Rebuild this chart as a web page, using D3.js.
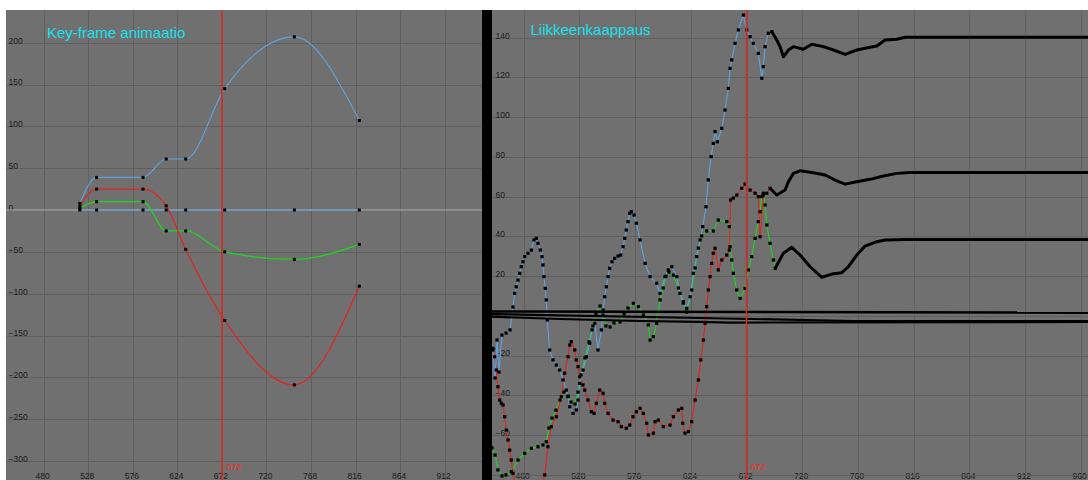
<!DOCTYPE html>
<html><head><meta charset="utf-8">
<script src="https://cdn.jsdelivr.net/npm/d3@7"></script>
<style>
html,body{margin:0;padding:0;background:#fff;}
svg{display:block;}
text{font-family:"Liberation Sans",Arial,sans-serif;}
</style></head><body>
<svg id="c" width="1088" height="480"></svg>
<script>
// ---------- DATA ----------
// Left panel: key-frame animation (frame, value)
const leftKeyFrames = [519, 537, 587, 612, 633, 675, 750, 820];
const leftBlueTop   = [8, 39, 39, 61, 61, 145, 207, 107];
const leftRed       = [5, 25, 25, 5, -47, -132, -209, -91];
const leftGreen     = [2, 10, 10, -25, -25, -50, -59, -41];
const leftBlueZero  = [0, 0, 0, 0, 0, 0, 0, 0];
const leftXTicks = [480, 528, 576, 624, 672, 720, 768, 816, 864, 912];
const leftYTicks = [-300, -250, -200, -150, -100, -50, 0, 50, 100, 150, 200];

// Right panel: motion capture curves [frame, value]
const rightA = [[453.5,-17.2],[455.3,-31.3],[457.0,-12.2],[458.7,-28.3],[461.3,-9.7],[464.8,-8.7],[468.2,-7.1],[470.8,4.4],[472.2,11.3],[473.6,14.6],[475.1,18.0],[476.6,21.4],[477.9,24.7],[479.4,27.2],[480.9,29.8],[483.7,31.5],[486.6,33.1],[488.9,38.2],[490.9,39.0],[492.3,36.5],[494.3,33.1],[495.8,29.8],[496.6,25.6],[497.5,19.7],[498.6,13.8],[499.5,8.0],[500.3,-2.1],[502.4,-17.2],[505.3,-22.2],[508.1,-24.8],[511.0,-27.3],[513.9,-32.3],[516.7,-37.4],[518.2,-40.7],[519.7,-45.8],[522.5,-49.1],[525.3,-47.4],[526.8,-42.4],[528.3,-34.0],[531.1,-27.3],[534.0,-20.6],[536.9,-13.8],[538.9,-7.1],[541.2,-3.8],[544.0,-17.2],[546.9,-7.1],[548.4,2.9],[549.8,9.6],[551.2,14.6],[552.7,19.7],[554.1,23.9],[556.1,27.2],[558.4,28.9],[561.3,30.1],[563.6,30.6],[565.6,34.8],[567.1,39.0],[568.4,43.2],[569.9,47.4],[571.4,51.6],[572.8,52.4],[575.1,50.7],[577.1,46.6],[580.3,38.2],[584.6,26.4],[588.9,19.7],[594.6,16.4],[597.5,11.3],[601.8,19.7],[604.6,23.1],[607.6,24.7],[611.9,19.7],[614.7,11.3],[617.6,7.1],[620.5,3.8],[623.4,9.6],[626.2,21.4],[629.1,29.8],[632.0,38.2],[634.3,44.9],[637.1,54.9],[639.1,68.4],[641.5,80.1],[643.4,86.8],[644.9,92.7],[646.9,87.6],[650.7,94.4],[653.5,103.6],[656.4,114.5],[657.8,124.6],[659.3,128.8],[662.1,137.2],[665.0,143.9],[669.3,151.4],[672.2,143.9],[675.1,140.5],[677.9,137.2],[682.2,132.1],[685.2,119.6],[686.5,125.4],[688.0,135.5],[690.8,142.2],[693.8,143.0],[698.1,138.8],[700.9,135.5],[703.8,130.4],[708.1,133.8],[712.4,135.5],[721.0,134.2],[728.3,136.7],[738.3,135.5],[746.9,133.8],[757.0,131.6],[767.0,133.8],[778.5,135.2],[784.3,135.8],[791.4,138.8],[801.5,139.2],[808.7,140.2],[970,140.2]];
const rightB = [[453.5,-16.4],[455.0,-20.6],[456.4,-27.3],[457.8,-35.7],[459.3,-42.4],[460.7,-44.0],[462.2,-44.9],[463.6,-50.8],[465.0,-57.5],[466.5,-62.5],[467.9,-67.6],[469.3,-72.6],[470.8,-79.3],[476,-95],[486,-100],[494,-90],[498.1,-80.1],[500.9,-65.9],[503.8,-55.8],[508.1,-50.8],[512.4,-40.7],[515.3,-28.9],[518.2,-20.6],[519.7,-14.7],[521.0,-13.0],[524.0,-17.2],[525.3,-22.2],[526.8,-25.6],[528.3,-30.7],[531.1,-34.8],[532.6,-37.4],[535.4,-42.4],[538.3,-48.3],[540.6,-49.1],[542.6,-44.0],[545.5,-37.4],[548.4,-39.0],[549.8,-44.0],[552.7,-49.1],[557.0,-52.5],[561.3,-53.3],[564.1,-55.8],[568.4,-56.6],[571.4,-55.0],[574.2,-50.8],[577.1,-48.3],[580.3,-46.6],[583.1,-49.1],[586.0,-54.1],[587.4,-60.0],[591.7,-59.1],[593.2,-53.3],[596.0,-52.5],[600.3,-55.8],[606.1,-55.0],[609.0,-50.8],[613.3,-47.4],[616.2,-46.6],[617.1,-54.1],[619.0,-59.1],[621.9,-58.3],[624.8,-53.3],[627.7,-42.4],[630.5,-32.3],[632.6,-22.2],[634.8,-12.2],[636.3,-3.8],[637.7,4.6],[639.1,13.0],[640.6,19.7],[642.0,26.4],[643.4,31.5],[644.9,34.0],[647.7,23.1],[650.7,28.1],[655.0,30.6],[657.2,33.1],[658.3,58.3],[660.7,59.3],[663.6,60.8],[667.9,64.2],[670.8,66.3],[675.1,63.3],[679.4,61.7],[682.2,60.0],[683.7,39.8],[686.5,60.8],[689.5,61.7],[692.3,64.2],[698.1,60.8],[705.2,63.3],[708.1,67.5],[712.4,71.7],[718.2,73.0],[729.6,72.0],[739.7,70.9],[749.8,67.9],[757.0,66.3],[767.0,67.5],[778.5,68.7],[790.0,70.4],[801.5,71.7],[813.0,72.2],[970,72.2]];
const rightC = [[452.7,-66.5],[455.3,-70.1],[457.8,-77.6],[461.3,-80.6],[464.7,-80.1],[469.3,-78.5],[475.1,-72.6],[480.9,-69.2],[486.6,-66.7],[492.3,-65.9],[496.6,-65.0],[499.5,-63.4],[501.8,-56.5],[504.4,-51.5],[507.8,-47.5],[511.3,-42.4],[514.7,-38.4],[518.2,-40.4],[520.8,-43.4],[524.2,-44.4],[526.8,-38.4],[529.4,-29.8],[532.8,-21.2],[536.3,-13.1],[539.7,-5.1],[542.3,0.9],[545.8,4.9],[548.4,0.4],[550.9,-5.1],[554.4,-5.6],[557.8,-3.6],[563.0,-3.1],[566.5,0.9],[569.9,3.9],[574.5,6.3],[578.8,4.6],[583.1,0.4],[587.4,-4.6],[588.9,-12.2],[591.7,-10.5],[594.6,-3.8],[597.5,8.0],[600.1,14.0],[602.7,20.0],[605.2,22.0],[609.0,20.5],[613.3,14.0],[617.6,6.4],[620.5,1.9],[624.8,13.0],[627.7,24.1],[630.5,34.1],[633.4,40.2],[637.7,42.7],[643.4,42.7],[647.7,48.2],[655.0,47.4],[657.2,44.9],[657.8,34.8],[659.3,28.1],[660.7,21.4],[663.6,13.0],[666.5,8.8],[670.8,13.8],[673.6,23.1],[676.5,29.8],[679.4,39.0],[682.2,47.4],[683.7,52.4],[685.2,60.0],[686.5,61.7],[688.0,55.8],[689.5,45.7],[692.3,36.5],[695.2,28.1],[696.7,23.9],[703.8,31.5],[711.0,34.5],[718.2,30.6],[726.8,24.7],[736.9,19.4],[745.5,21.0],[754.1,21.7],[759.8,24.7],[767.0,30.6],[774.2,35.1],[784.3,37.3],[791.4,38.2],[810.1,38.4],[970,38.4]];
const rightE1 = [[450,2.2],[970,1.6]];
const rightE2 = [[450,-0.4],[511.3,-1.6],[580.3,-2.6],[632.0,-3.1],[657.8,-3.4],[970,-3.1]];
const rightE3 = [[450,0.9],[632.0,-1.1],[763.0,-2.6],[970,-2.6]];
const rightXTicks = [480, 528, 576, 624, 672, 720, 768, 816, 864, 912, 960];
const rightYTicks = [-80, -60, -40, -20, 0, 20, 40, 60, 80, 100, 120, 140];
const currentFrame = 672;
const solidFrom = 698;

// ---------- STYLE ----------
const BG = '#707070', GRID = '#5f5f5f', LBL = '#1c1c1c';
const BLUE = '#5ea2de', RED = '#e4231c', GREEN = '#1fd61f', CYAN = '#14e2ee', TIMELINE = '#dc2a24';

const svg = d3.select('#c');
const L = {x0: 6, x1: 482, y0: 10, y1: 480};
const R = {x0: 492, x1: 1088, y0: 10, y1: 480};

const xL = d3.scaleLinear().domain([480, 912]).range([43.7, 444.7]);
const yL = d3.scaleLinear().domain([-300, 200]).range([461, 42.7]);
const xR = d3.scaleLinear().domain([480, 960]).range([523.7, 1080.7]);
const yR = d3.scaleLinear().domain([-60, 140]).range([435, 37.7]);

svg.append('rect').attr('x', 0).attr('y', 0).attr('width', 1088).attr('height', 480).attr('fill', '#ffffff');
svg.append('rect').attr('x', L.x1).attr('y', L.y0).attr('width', R.x0 - L.x1).attr('height', 470).attr('fill', '#000');

const defs = svg.append('defs');
[['clipL', L], ['clipR', R]].forEach(([id, P]) => {
  defs.append('clipPath').attr('id', id).append('rect')
    .attr('x', P.x0).attr('y', P.y0).attr('width', P.x1 - P.x0).attr('height', P.y1 - P.y0);
});

function panel(id, P, x, y, xt, yt, ylabX, fmtY) {
  const g = svg.append('g').attr('clip-path', `url(#${id})`);
  g.append('rect').attr('x', P.x0).attr('y', P.y0).attr('width', P.x1 - P.x0).attr('height', P.y1 - P.y0).attr('fill', BG);
  const gx = g.append('g').attr('transform', `translate(0,${P.y1})`)
    .call(d3.axisBottom(x).tickValues(xt).tickSize(-(P.y1 - P.y0)).tickFormat(d3.format('d')));
  gx.select('.domain').remove();
  gx.selectAll('.tick line').attr('stroke', GRID).attr('shape-rendering', 'crispEdges');
  gx.selectAll('.tick text').attr('y', -7.5).attr('dy', '0.71em').attr('x', -1.5)
    .attr('fill', LBL).style('font-size', '8.5px').style('font-family', '"Liberation Sans",Arial,sans-serif');
  const gy = g.append('g').attr('transform', `translate(${P.x0},0)`)
    .call(d3.axisLeft(y).tickValues(yt).tickSize(-(P.x1 - P.x0)).tickFormat(fmtY));
  gy.select('.domain').remove();
  gy.selectAll('.tick line').attr('stroke', GRID).attr('shape-rendering', 'crispEdges');
  gy.selectAll('.tick text').attr('x', ylabX).attr('dy', '0.05em').attr('text-anchor', 'start')
    .attr('fill', LBL).style('font-size', '8.5px').style('font-family', '"Liberation Sans",Arial,sans-serif');
  return g;
}

// ---------- LEFT PANEL ----------
const gL = panel('clipL', L, xL, yL, leftXTicks, leftYTicks, 2.5, d3.format('d'));
gL.append('line').attr('x1', L.x0).attr('x2', L.x1).attr('y1', yL(0)).attr('y2', yL(0))
  .attr('stroke', '#b4b4b4').attr('stroke-width', 1);

const lineL = d3.line().x(d => xL(d[0])).y(d => yL(d[1])).curve(d3.curveMonotoneX);
const leftSeries = [
  {vals: leftBlueZero, color: BLUE},
  {vals: leftGreen, color: GREEN},
  {vals: leftRed, color: RED},
  {vals: leftBlueTop, color: BLUE}
];
leftSeries.forEach(s => {
  const pts = leftKeyFrames.map((f, i) => [f, s.vals[i]]);
  gL.append('path').datum(pts).attr('d', lineL).attr('fill', 'none').attr('stroke', s.color).attr('stroke-width', 1.2);
});
leftSeries.forEach(s => {
  const pts = leftKeyFrames.map((f, i) => [f, s.vals[i]]);
  gL.selectAll(null).data(pts).enter().append('rect')
    .attr('x', d => xL(d[0]) - 1.5).attr('y', d => yL(d[1]) - 1.5)
    .attr('width', 3).attr('height', 3).attr('fill', '#000');
});
gL.append('line').attr('x1', xL(currentFrame)).attr('x2', xL(currentFrame)).attr('y1', L.y0).attr('y2', L.y1)
  .attr('stroke', TIMELINE).attr('stroke-width', 1.6);
gL.append('text').attr('x', xL(currentFrame) + 4.5).attr('y', 469.5).text(currentFrame)
  .attr('fill', '#ff2a1e').style('font-size', '9px');
gL.append('text').attr('x', 47).attr('y', 38).text('Key-frame animaatio')
  .attr('fill', CYAN).style('font-size', '15px');

// ---------- RIGHT PANEL ----------
const gR = panel('clipR', R, xR, yR, rightXTicks, rightYTicks, 3.5, d => d === -80 ? '' : d3.format('d')(d));
const lineR = d3.line().x(d => xR(d[0])).y(d => yR(d[1]));
const rightSeries = [
  {data: rightC, color: GREEN},
  {data: rightB, color: RED},
  {data: rightA, color: BLUE}
];
const layers = rightSeries.map(s => {
  const i = s.data.findIndex(d => d[0] >= solidFrom);
  return {color: s.color, dotted: s.data.slice(0, i), solid: s.data.slice(i - 1)};
});
layers.forEach(l => {
  gR.append('path').datum(l.dotted.concat([l.solid[1]])).attr('d', lineR).attr('fill', 'none')
    .attr('stroke', l.color).attr('stroke-width', 1.1);
});
[rightE1, rightE2, rightE3].forEach((d, k) => {
  gR.append('path').datum(d).attr('d', lineR).attr('fill', 'none')
    .attr('stroke', '#000').attr('stroke-width', k === 0 ? 2.6 : 2.2);
});
layers.forEach(l => {
  gR.selectAll(null).data(l.dotted).enter().append('rect')
    .attr('x', d => xR(d[0]) - 1.6).attr('y', d => yR(d[1]) - 1.6)
    .attr('width', 3.2).attr('height', 3.2).attr('fill', '#000');
  gR.append('path').datum(l.solid).attr('d', lineR).attr('fill', 'none')
    .attr('stroke', '#000').attr('stroke-width', 3).attr('stroke-linejoin', 'round');
});
gR.append('line').attr('x1', xR(currentFrame)).attr('x2', xR(currentFrame)).attr('y1', R.y0).attr('y2', R.y1)
  .attr('stroke', TIMELINE).attr('stroke-width', 1.6);
gR.append('text').attr('x', xR(currentFrame) + 4).attr('y', 469.5).text(currentFrame)
  .attr('fill', '#ff2a1e').style('font-size', '9px');
gR.append('text').attr('x', 530.5).attr('y', 34.5).text('Liikkeenkaappaus')
  .attr('fill', CYAN).style('font-size', '15px');
</script>
</body></html>
